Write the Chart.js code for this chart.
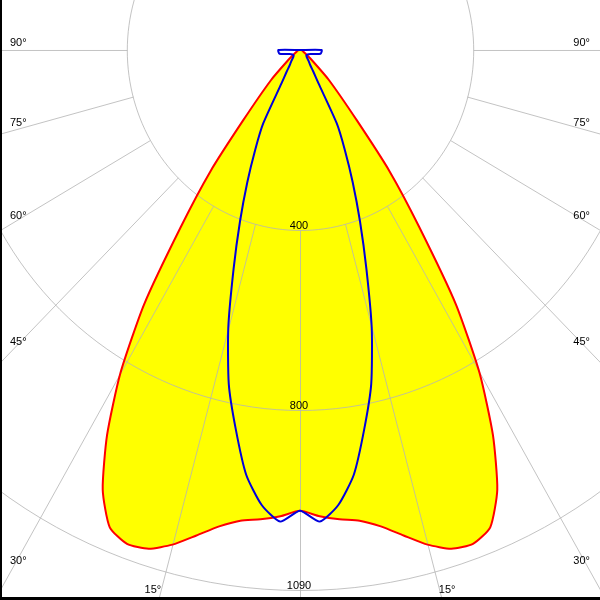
<!DOCTYPE html>
<html>
<head>
<meta charset="utf-8">
<script src="https://cdn.jsdelivr.net/npm/chart.js@4.4.1/dist/chart.umd.min.js"></script>
<style>
  html, body { margin: 0; padding: 0; background: #fff; }
  #wrap { width: 600px; height: 600px; position: relative; }
</style>
</head>
<body>
<div id="wrap"><canvas id="chart" width="600" height="600"></canvas></div>
<script>
// gamma angles (deg) and luminous intensity (cd)
const angles = [0, 2.5, 5, 7.5, 10, 12.5, 15, 17.5, 20, 22.5, 25, 27.5, 30, 32.5, 35, 37.5, 40, 45, 50, 60, 70, 80, 90];
const planeC0 = [1024, 1037, 1047, 1055, 1075, 1105, 1138, 1162, 1168, 1148, 1078, 965, 830, 670, 480, 340, 205, 95, 38, 12, 7, 5, 3];
const planeC90 = [1024, 1049, 1015, 952, 855, 760, 640, 510, 405, 318, 245, 184, 85, 58, 42, 35, 30, 22, 19, 20, 26, 48, 50];

const ringValues = [400, 800, 1200];
const ringLabels = ['400', '800', '1090'];
const angleTicks = [90, 75, 60, 45, 30, 15];
const angleLabels = ['90°', '75°', '60°', '45°', '30°', '15°'];

const FONT = '11px "Liberation Sans", Arial, sans-serif';

function toPoints(values) {
    const pts = [{ x: 0, y: 0 }];
    for (let i = angles.length - 1; i >= 0; i--) {
        const a = angles[i] * Math.PI / 180;
        pts.push({ x: -values[i] * Math.sin(a), y: -values[i] * Math.cos(a) });
    }
    for (let i = 1; i < angles.length; i++) {
        const a = angles[i] * Math.PI / 180;
        pts.push({ x: values[i] * Math.sin(a), y: -values[i] * Math.cos(a) });
    }
    pts.push({ x: 0, y: 0 });
    return pts;
}

function polarPx(chart, r, deg) {
    const a = deg * Math.PI / 180;
    return [
        chart.scales.x.getPixelForValue(r * Math.sin(a)),
        chart.scales.y.getPixelForValue(-r * Math.cos(a))
    ];
}

function drawGrid(chart) {
    const ctx = chart.ctx;
    const area = chart.chartArea;
    ctx.save();
    ctx.beginPath();
    ctx.rect(area.left, area.top, area.right - area.left, area.bottom - area.top);
    ctx.clip();
    ctx.translate(0.5, 0.5);
    ctx.strokeStyle = 'rgba(180,180,180,0.8)';
    ctx.lineWidth = 1;

    ringValues.forEach(r => {
        ctx.beginPath();
        for (let d = 0; d <= 360; d += 2) {
            const p = polarPx(chart, r, d);
            if (d === 0) ctx.moveTo(p[0], p[1]); else ctx.lineTo(p[0], p[1]);
        }
        ctx.closePath();
        ctx.stroke();
    });

    const spokes = [0];
    angleTicks.forEach(a => { spokes.push(a, -a); });
    spokes.forEach(d => {
        const p0 = polarPx(chart, ringValues[0], d);
        const p1 = polarPx(chart, 4000, d);
        ctx.beginPath();
        ctx.moveTo(Math.round(p0[0]), p0[1]);
        ctx.lineTo(Math.round(p1[0]), p1[1]);
        ctx.stroke();
    });
    ctx.restore();
}

function drawLabels(chart) {
    const ctx = chart.ctx;
    const xs = chart.scales.x;
    const ys = chart.scales.y;
    const area = chart.chartArea;
    ctx.save();
    ctx.font = FONT;
    ctx.fillStyle = '#000';
    ctx.textBaseline = 'alphabetic';

    ringValues.forEach((r, i) => {
        ctx.textAlign = 'center';
        ctx.fillText(ringLabels[i], xs.getPixelForValue(0) - 1, ys.getPixelForValue(-r) - 1);
    });

    const halfW = xs.max;
    const depth = -ys.min;
    angleTicks.forEach((deg, i) => {
        const a = deg * Math.PI / 180;
        const rSide = halfW / Math.sin(a);
        const rBottom = depth / Math.cos(a);
        if (rSide <= rBottom) {
            // label near the side edge, just above the spoke
            const r = -xs.getValueForPixel(area.left + 12) / Math.sin(a);
            const y = ys.getPixelForValue(-r * Math.cos(a));
            ctx.textAlign = 'left';
            ctx.fillText(angleLabels[i], area.left + 10, y - 4);
            ctx.textAlign = 'right';
            ctx.fillText(angleLabels[i], area.right - 10, y - 4);
        } else {
            // label at the bottom edge, beside the spoke
            const r = depth / Math.cos(a);
            const xl = xs.getPixelForValue(-r * Math.sin(a));
            const xr = xs.getPixelForValue(r * Math.sin(a));
            ctx.textAlign = 'right';
            ctx.fillText(angleLabels[i], xl + 3, area.bottom - 7);
            ctx.textAlign = 'left';
            ctx.fillText(angleLabels[i], xr - 3, area.bottom - 7);
        }
    });

    // frame
    ctx.fillStyle = '#000';
    ctx.fillRect(0, 0, 2, 600);
    ctx.fillRect(0, 597, 600, 3);
    ctx.restore();
}

const polarGrid = {
    id: 'polarGrid',
    afterDatasetDraw(chart, args) {
        if (args.index === 0) drawGrid(chart);
    },
    afterDraw(chart) {
        drawLabels(chart);
    }
};

const ctx = document.getElementById('chart').getContext('2d');
const chart = new Chart(ctx, {
    type: 'scatter',
    data: {
        datasets: [{
            label: 'fill',
            data: toPoints(planeC0),
            showLine: true,
            fill: 'shape',
            backgroundColor: '#ffff00',
            borderWidth: 0,
            borderColor: 'rgba(0,0,0,0)',
            pointRadius: 0,
            tension: 0.2,
            order: 3
        }, {
            label: 'C0-C180',
            data: toPoints(planeC0),
            showLine: true,
            fill: false,
            borderColor: '#ff0000',
            borderWidth: 2,
            pointRadius: 0,
            tension: 0.2,
            order: 2
        }, {
            label: 'C90-C270',
            data: toPoints(planeC90),
            showLine: true,
            fill: false,
            borderColor: '#0000dd',
            borderWidth: 2,
            pointRadius: 0,
            tension: 0.2,
            order: 1
        }]
    },
    options: {
        responsive: false,
        animation: false,
        layout: { padding: 0 },
        scales: {
            x: { type: 'linear', min: -692.8, max: 692.8, display: false },
            y: { type: 'linear', min: -1222.2, max: 111.1, display: false }
        },
        plugins: {
            legend: { display: false },
            tooltip: { enabled: false }
        }
    },
    plugins: [polarGrid]
});
</script>
</body>
</html>
